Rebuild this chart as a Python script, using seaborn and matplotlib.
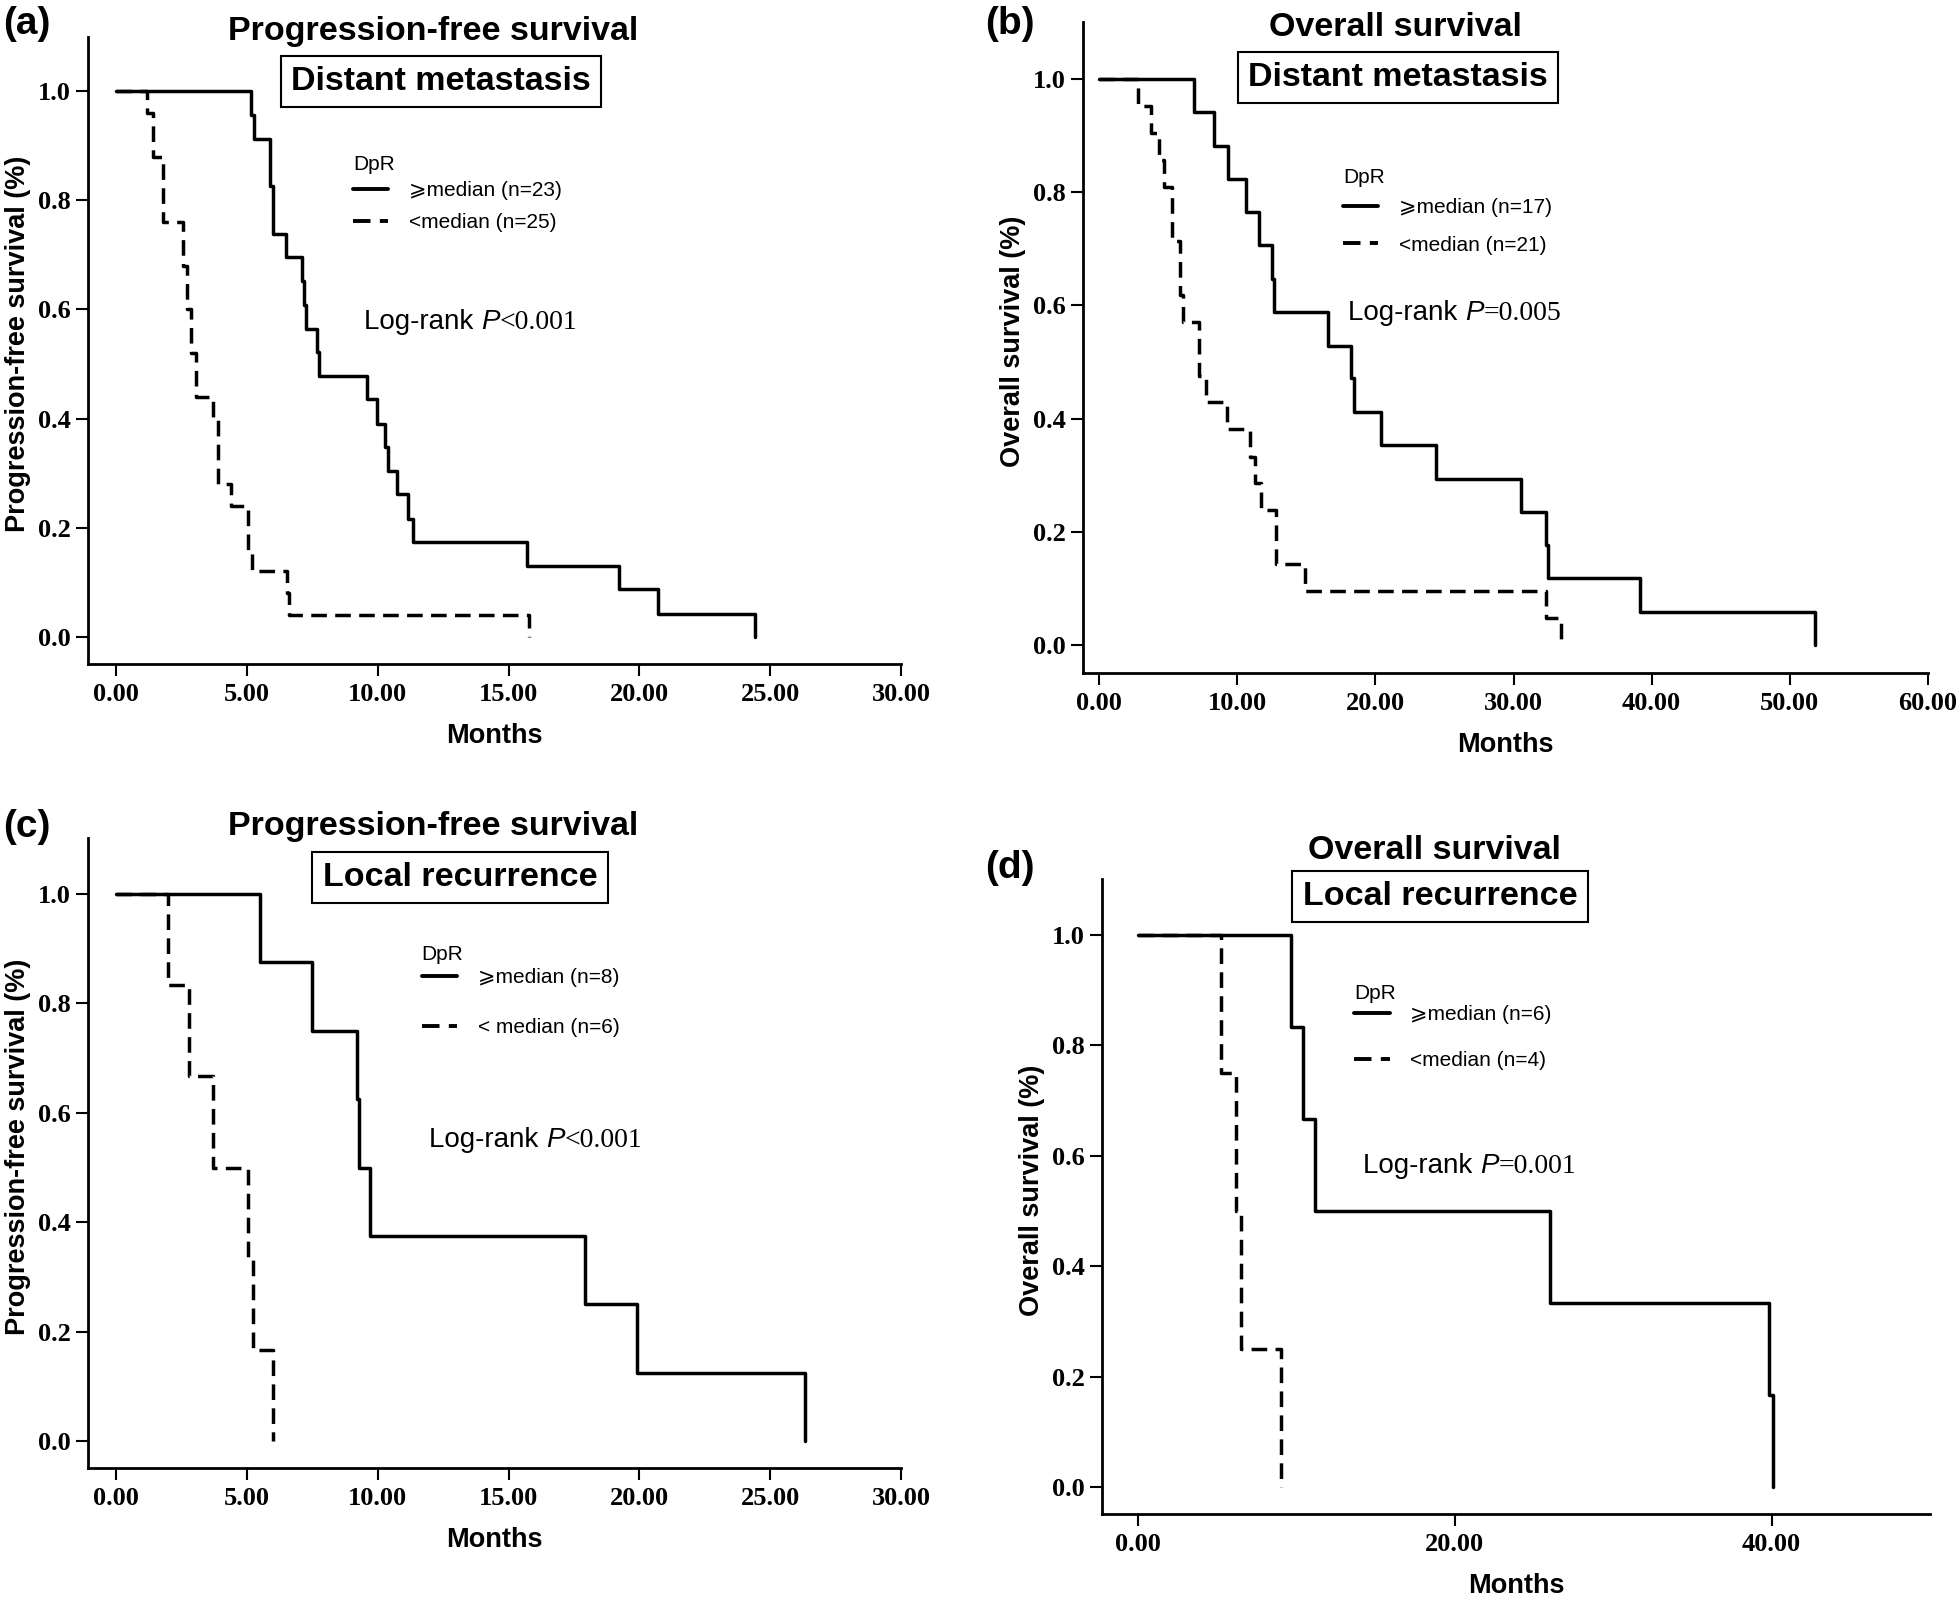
import pandas as pd
import seaborn as sns
import matplotlib.pyplot as plt
from matplotlib.offsetbox import TextArea, HPacker, AnchoredOffsetbox

# -------- 1. Kaplan-Meier steps --------
# (a) progression-free survival, distant metastasis
a_hi_t = [0, 5.15, 5.27, 5.88, 5.99, 6.48, 7.09, 7.16, 7.26, 7.69, 7.76, 9.58, 9.96,
          10.27, 10.39, 10.75, 11.15, 11.34, 15.72, 19.23, 20.70, 24.43]
a_hi_s = [1.0, 0.957, 0.913, 0.826, 0.739, 0.696, 0.652, 0.609, 0.565, 0.522, 0.478, 0.435,
          0.391, 0.348, 0.304, 0.261, 0.217, 0.174, 0.130, 0.087, 0.043, 0.0]
a_lo_t = [0, 1.17, 1.40, 1.80, 2.57, 2.72, 2.84, 3.03, 3.70, 3.89, 4.37, 5.02, 5.19,
          6.52, 6.62, 15.79]
a_lo_s = [1.0, 0.96, 0.88, 0.76, 0.68, 0.60, 0.52, 0.44, 0.40, 0.28, 0.24, 0.16, 0.12,
          0.08, 0.04, 0.0]

# (b) overall survival, distant metastasis
b_hi_t = [0, 6.91, 8.31, 9.31, 10.66, 11.57, 12.52, 12.65, 16.58, 18.26, 18.44, 20.42,
          24.36, 30.55, 32.35, 32.49, 39.18, 51.79]
b_hi_s = [1.0, 0.941, 0.882, 0.824, 0.765, 0.706, 0.647, 0.588, 0.529, 0.471, 0.412,
          0.353, 0.294, 0.235, 0.176, 0.118, 0.059, 0.0]
b_lo_t = [0, 2.82, 3.74, 4.36, 4.70, 5.26, 5.87, 6.10, 7.23, 7.77, 9.26, 10.94, 11.30,
          11.70, 12.79, 14.91, 32.35, 33.44]
b_lo_s = [1.0, 0.952, 0.905, 0.857, 0.810, 0.714, 0.619, 0.571, 0.476, 0.429, 0.381,
          0.333, 0.286, 0.238, 0.143, 0.095, 0.048, 0.0]

# (c) progression-free survival, local recurrence
c_hi_t = [0, 5.49, 7.50, 9.20, 9.29, 9.70, 17.91, 19.90, 26.32]
c_hi_s = [1.0, 0.875, 0.75, 0.625, 0.5, 0.375, 0.25, 0.125, 0.0]
c_lo_t = [0, 1.98, 2.79, 3.68, 5.02, 5.23, 5.99]
c_lo_s = [1.0, 0.833, 0.667, 0.5, 0.333, 0.167, 0.0]

# (d) overall survival, local recurrence
d_hi_t = [0, 9.66, 10.45, 11.20, 26.04, 39.84, 40.08]
d_hi_s = [1.0, 0.833, 0.667, 0.5, 0.333, 0.167, 0.0]
d_lo_t = [0, 5.25, 6.23, 6.50, 9.07]
d_lo_s = [1.0, 0.75, 0.5, 0.25, 0.0]

# group labels and annotations
a_labels = ["\u2a7emedian (n=23)", "<median (n=25)"]
b_labels = ["\u2a7emedian (n=17)", "<median (n=21)"]
c_labels = ["\u2a7emedian (n=8)", "< median (n=6)"]
d_labels = ["\u2a7emedian (n=6)", "<median (n=4)"]
p_texts = ["<0.001", "=0.005", "<0.001", "=0.001"]
titles = ["Progression-free survival", "Overall survival",
          "Progression-free survival", "Overall survival"]
subtitles = ["Distant metastasis", "Distant metastasis",
             "Local recurrence", "Local recurrence"]
ylabels = ["Progression-free survival (%)", "Overall survival (%)",
           "Progression-free survival (%)", "Overall survival (%)"]
panel_tags = ["(a)", "(b)", "(c)", "(d)"]
xticks_30 = [0, 5, 10, 15, 20, 25, 30]
xticks_60 = [0, 10, 20, 30, 40, 50, 60]
xticks_40 = [0, 20, 40]
yticks = [0.0, 0.2, 0.4, 0.6, 0.8, 1.0]

# -------- 2. Style --------
sns.set_theme(style="ticks", rc={
    "axes.linewidth": 2.0,
    "axes.edgecolor": "black",
    "axes.labelcolor": "black",
    "text.color": "black",
    "xtick.color": "black", "ytick.color": "black",
    "xtick.major.width": 1.5, "ytick.major.width": 1.5,
    "xtick.major.size": 8.6, "ytick.major.size": 8.6,
    "xtick.direction": "out", "ytick.direction": "out",
    "axes.spines.top": False, "axes.spines.right": False,
})
SANS = ["Liberation Sans", "DejaVu Sans"]
SERIF = ["Liberation Serif", "DejaVu Serif"]
plt.rcParams["font.family"] = SANS
LW = 2.5

W, H = 1960, 1602
fig = plt.figure(figsize=(W / 100, H / 100), dpi=100)

# layout in pixels: axes box, limits, text spots
panels = [
    dict(hi=(a_hi_t, a_hi_s), lo=(a_lo_t, a_lo_s), labels=a_labels,
         box=(88, 37, 901, 664), xlim=(-1.08, 30), ylim=(-0.0495, 1.099), xticks=xticks_30,
         title=(433, 40), sub=(441, 90), tag=(3, 34),
         leg=(9.05, 0.882), leg_sp=0.62, leg_sep=5.0, logrank=(9.46, 0.577)),
    dict(hi=(b_hi_t, b_hi_s), lo=(b_lo_t, b_lo_s), labels=b_labels,
         box=(1083, 22, 1928, 673), xlim=(-1.16, 60), ylim=(-0.0495, 1.1007), xticks=xticks_60,
         title=(1395, 36), sub=(1398, 86), tag=(985, 34),
         leg=(17.65, 0.843), leg_sp=0.9, leg_sep=8.0, logrank=(18.0, 0.587)),
    dict(hi=(c_hi_t, c_hi_s), lo=(c_lo_t, c_lo_s), labels=c_labels,
         box=(88, 838, 901, 1468), xlim=(-1.08, 30), ylim=(-0.049, 1.102), xticks=xticks_30,
         title=(433, 835), sub=(460, 886), tag=(3, 837),
         leg=(11.67, 0.907), leg_sp=1.5, leg_sep=3.0, logrank=(11.94, 0.55)),
    dict(hi=(d_hi_t, d_hi_s), lo=(d_lo_t, d_lo_s), labels=d_labels,
         box=(1102, 879, 1930, 1514), xlim=(-2.24, 50), ylim=(-0.049, 1.1016), xticks=xticks_40,
         title=(1434, 859), sub=(1440, 905), tag=(985, 878),
         leg=(13.67, 0.911), leg_sp=1.3, leg_sep=1.5, logrank=(14.2, 0.582)),
]

for i, p in enumerate(panels):
    l, t, r, b = p["box"]
    ax = fig.add_axes([l / W, 1 - b / H, (r - l) / W, (b - t) / H])

    hi_lab, lo_lab = p["labels"]
    df = pd.concat([
        pd.DataFrame({"Months": p["hi"][0], "Survival": p["hi"][1], "DpR": hi_lab}),
        pd.DataFrame({"Months": p["lo"][0], "Survival": p["lo"][1], "DpR": lo_lab}),
    ], ignore_index=True)

    sns.lineplot(data=df, x="Months", y="Survival", style="DpR", style_order=[hi_lab, lo_lab],
                 dashes={hi_lab: "", lo_lab: (4.5, 2.4)}, color="black", linewidth=LW,
                 estimator=None, sort=False, drawstyle="steps-post", ax=ax)

    ax.set_xlim(*p["xlim"])
    ax.set_ylim(*p["ylim"])
    ax.set_xticks(p["xticks"], [f"{v:.2f}" for v in p["xticks"]],
                  fontfamily=SERIF, fontweight="bold", fontsize=19)
    ax.set_yticks(yticks, [f"{v:.1f}" for v in yticks],
                  fontfamily=SERIF, fontweight="bold", fontsize=19)
    ax.tick_params(axis="x", pad=5)
    ax.tick_params(axis="y", pad=3.6)

    ax.set_xlabel("Months", fontsize=19.5, fontweight="bold", fontfamily=SANS)
    ax.set_ylabel(ylabels[i], fontsize=19.5, fontweight="bold", fontfamily=SANS)
    ax.xaxis.set_label_coords(0.5, -72 / (b - t))
    ax.xaxis.label.set_va("center")
    ax.yaxis.set_label_coords(-70 / (r - l), 0.51)
    ax.yaxis.label.set_va("center")

    # legend
    sns.move_legend(ax, "upper left", bbox_to_anchor=p["leg"], bbox_transform=ax.transData,
                    frameon=False, prop={"family": SANS, "size": 15},
                    title_fontsize=15, handlelength=1.7, handletextpad=1.0,
                    labelspacing=p["leg_sp"], borderpad=0, borderaxespad=0, alignment="left")
    leg = ax.get_legend()
    leg.get_title().set_fontfamily(SANS)
    leg._legend_box.sep = p["leg_sep"]
    for h in leg.legend_handles:
        h.set_linewidth(LW + 0.3)
        h.set_color("black")

    # log-rank annotation
    parts = [TextArea("Log-rank ", textprops=dict(family=SANS, size=20)),
             TextArea("P", textprops=dict(family=SANS, style="italic", size=20)),
             TextArea(p_texts[i], textprops=dict(family=SERIF, size=20))]
    pack = HPacker(children=parts, align="baseline", pad=0, sep=0)
    anc = AnchoredOffsetbox(loc="center left", child=pack, pad=0, borderpad=0, frameon=False,
                            bbox_to_anchor=p["logrank"], bbox_transform=ax.transData)
    ax.add_artist(anc)

    # headings
    fig.text(p["title"][0] / W, 1 - p["title"][1] / H, titles[i], ha="center", va="baseline",
             fontsize=24.5, fontweight="bold", fontfamily=SANS)
    fig.text(p["sub"][0] / W, 1 - p["sub"][1] / H, subtitles[i], ha="center", va="baseline",
             fontsize=24.5, fontweight="bold", fontfamily=SANS,
             bbox=dict(boxstyle="square,pad=0.3", fc="white", ec="black", lw=1.5))
    fig.text(p["tag"][0] / W, 1 - p["tag"][1] / H, panel_tags[i], ha="left", va="baseline",
             fontsize=28, fontweight="bold", fontfamily=SANS)

fig.savefig("out.png", dpi=100)
